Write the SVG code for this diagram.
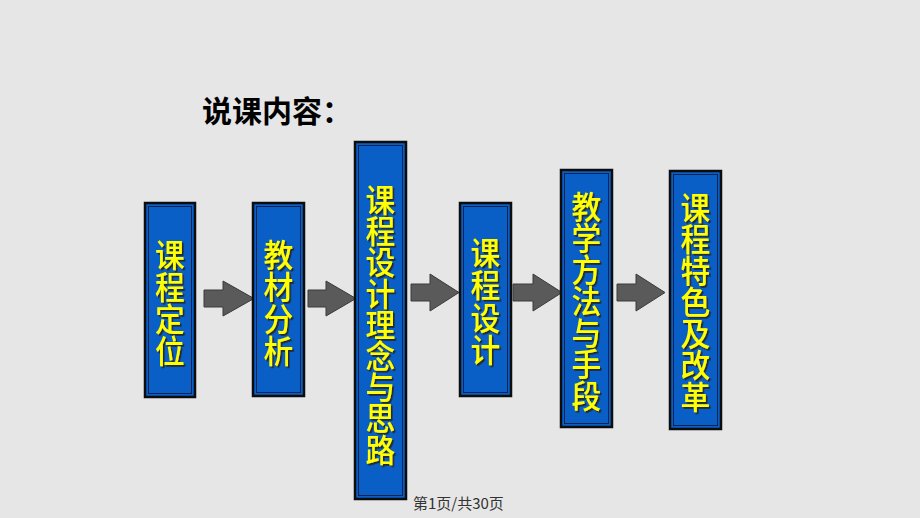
<svg xmlns="http://www.w3.org/2000/svg" width="920" height="518" viewBox="0 0 920 518">
<defs>
<style>
.box{fill:#0a5fc6;stroke:#0d0d0d;stroke-width:2.5}
.inner{fill:none;stroke:#0b2350;stroke-width:1}
.lbl{font-family:"Noto Sans CJK SC","Noto Sans CJK TC",sans-serif;font-size:32px;font-weight:500;fill:#ffff00;text-anchor:middle;filter:url(#sh)}
.arr{fill:#5a5a5a;stroke:#3a3a3a;stroke-width:1}
</style>
<filter id="sh" x="-20%" y="-20%" width="140%" height="140%">
<feDropShadow dx="1.8" dy="1.8" stdDeviation="0.6" flood-color="#222" flood-opacity="0.9"/>
</filter>
</defs>
<rect x="0" y="0" width="920" height="518" fill="#e6e6e6"/>
<text x="202" y="122" font-family="'Noto Sans CJK SC',sans-serif" font-size="30" font-weight="bold" fill="#000">说课内容：</text>
<g id="connectors">
<polygon class="arr" points="204,290 223,290 223,281 254,298.5 223,316 223,307 204,307"/>
<polygon class="arr" points="308,290 326,290 326,281 356,298.5 326,316 326,307 308,307"/>
<polygon class="arr" points="411,284 430,284 430,274 459,292.5 430,311 430,301 411,301"/>
<polygon class="arr" points="513,284 533,284 533,274 562,292.5 533,311 533,301 513,301"/>
<polygon class="arr" points="617,284 636,284 636,274 665,292.5 636,311 636,301 617,301"/>
</g>
<g id="n1">
<rect class="box" x="145" y="203" width="50" height="194"/>
<rect class="inner" x="148.5" y="206.5" width="43" height="187"/>
<g transform="translate(170,0) scale(0.93,1)"><text class="lbl"><tspan x="0" y="267">课</tspan><tspan x="0" y="299">程</tspan><tspan x="0" y="331">定</tspan><tspan x="0" y="363">位</tspan></text></g>
</g>
<g id="n2">
<rect class="box" x="253" y="203" width="51" height="193"/>
<rect class="inner" x="256.5" y="206.5" width="44" height="186"/>
<g transform="translate(278.5,0) scale(0.93,1)"><text class="lbl"><tspan x="0" y="267">教</tspan><tspan x="0" y="299">材</tspan><tspan x="0" y="331">分</tspan><tspan x="0" y="363">析</tspan></text></g>
</g>
<g id="n3">
<rect class="box" x="355" y="142" width="51" height="357"/>
<rect class="inner" x="358.5" y="145.5" width="44" height="350"/>
<g transform="translate(380.5,0) scale(0.93,1)"><text class="lbl"><tspan x="0" y="212">课</tspan><tspan x="0" y="243.2">程</tspan><tspan x="0" y="274.4">设</tspan><tspan x="0" y="305.6">计</tspan><tspan x="0" y="336.8">理</tspan><tspan x="0" y="368">念</tspan><tspan x="0" y="399.2">与</tspan><tspan x="0" y="430.4">思</tspan><tspan x="0" y="461.6">路</tspan></text></g>
</g>
<g id="n4">
<rect class="box" x="460" y="203" width="51" height="193"/>
<rect class="inner" x="463.5" y="206.5" width="44" height="186"/>
<g transform="translate(485.5,0) scale(0.93,1)"><text class="lbl"><tspan x="0" y="265">课</tspan><tspan x="0" y="297.5">程</tspan><tspan x="0" y="330">设</tspan><tspan x="0" y="362.5">计</tspan></text></g>
</g>
<g id="n5">
<rect class="box" x="561" y="170" width="51" height="257"/>
<rect class="inner" x="564.5" y="173.5" width="44" height="250"/>
<g transform="translate(586.5,0) scale(0.93,1)"><text class="lbl"><tspan x="0" y="219">教</tspan><tspan x="0" y="250.5">学</tspan><tspan x="0" y="282">方</tspan><tspan x="0" y="313.5">法</tspan><tspan x="0" y="345">与</tspan><tspan x="0" y="376.5">手</tspan><tspan x="0" y="408">段</tspan></text></g>
</g>
<g id="n6">
<rect class="box" x="670" y="171" width="51" height="258"/>
<rect class="inner" x="673.5" y="174.5" width="44" height="251"/>
<g transform="translate(695.5,0) scale(0.93,1)"><text class="lbl"><tspan x="0" y="220">课</tspan><tspan x="0" y="251.5">程</tspan><tspan x="0" y="283">特</tspan><tspan x="0" y="314.5">色</tspan><tspan x="0" y="346">及</tspan><tspan x="0" y="377.5">改</tspan><tspan x="0" y="409">革</tspan></text></g>
</g>
<text x="413" y="509" font-family="'Noto Sans CJK SC',sans-serif" font-size="15" fill="#333">第1页/共30页</text>
</svg>
